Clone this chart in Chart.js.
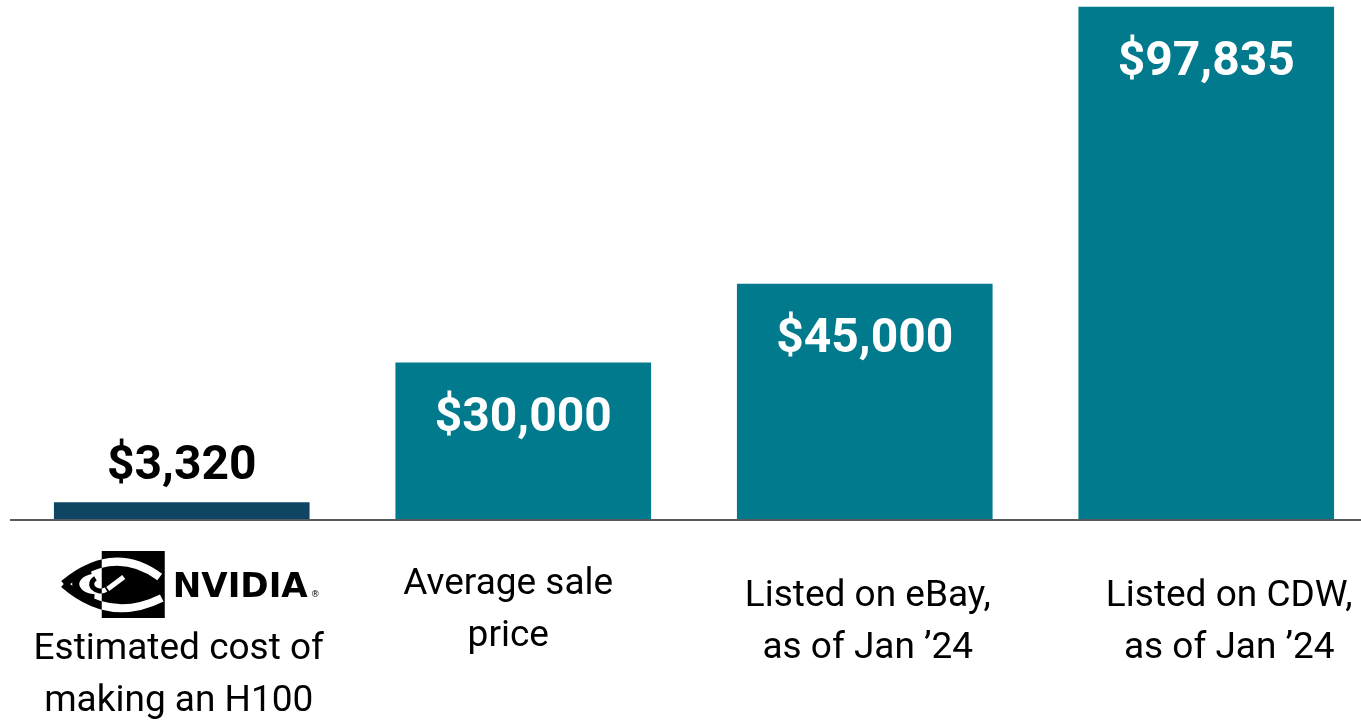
<!DOCTYPE html>
<html lang="en">
<head>
<meta charset="UTF-8">
<title>H100 price</title>
<style>
    body { margin: 0; background: #fff; overflow: hidden; }
    .wrap { position: relative; width: 1377px; height: 722px; }
</style>
</head>
<body>
<div class="wrap"><canvas id="grafico"></canvas></div>
<script src="https://cdn.jsdelivr.net/npm/chart.js"></script>
<script>
    // dados
    const categorias = [
        ['Estimated cost of', 'making an H100'],
        ['Average sale', 'price'],
        ['Listed on eBay,', 'as of Jan \u201924'],
        ['Listed on CDW,', 'as of Jan \u201924']
    ];
    const precos = [3320, 30000, 45000, 97835];
    const cores = ['#0e4562', '#007a8c', '#007a8c', '#007a8c'];

    // posicao dos rotulos de baixo: deslocamento x, linha de base y
    const posRotulos = [[-3, 659], [-15, 594], [3, 606], [23, 606]];

    function desenharLogo(ctx, cx) {
        // caixa preta
        const bx = cx - 80, by = 551, bw = 63, bh = 67;
        function olho(cor) {
            ctx.strokeStyle = cor;
            ctx.lineCap = 'butt';
            // contorno externo
            ctx.lineWidth = 8;
            ctx.beginPath();
            ctx.moveTo(cx - 118, 584);
            ctx.quadraticCurveTo(cx - 68, 543, cx - 22, 577);
            ctx.stroke();
            ctx.beginPath();
            ctx.moveTo(cx - 118, 584);
            ctx.quadraticCurveTo(cx - 72, 624, cx - 20, 598);
            ctx.stroke();
            // anel do meio
            ctx.lineWidth = 7;
            ctx.beginPath();
            ctx.ellipse(cx - 84, 584, 22, 14, 0, -0.6 * Math.PI, 0.55 * Math.PI, true);
            ctx.stroke();
            // gancho interno
            ctx.lineWidth = 5;
            ctx.beginPath();
            ctx.ellipse(cx - 81, 584, 9, 7, 0, -0.7 * Math.PI, 0.3 * Math.PI, true);
            ctx.stroke();
            ctx.beginPath();
            ctx.moveTo(cx - 74, 589);
            ctx.lineTo(cx - 58, 577);
            ctx.stroke();
        }
        ctx.fillStyle = '#000';
        ctx.fillRect(bx, by, bw, bh);
        olho('#000');
        ctx.save();
        ctx.beginPath();
        ctx.rect(bx, by, bw, bh);
        ctx.clip();
        olho('#fff');
        ctx.restore();

        // palavra NVIDIA
        ctx.save();
        ctx.font = 'bold 33px "DejaVu Sans"';
        const w = ctx.measureText('NVIDIA').width;
        ctx.translate(cx - 9, 597);
        ctx.scale(135 / w, 1);
        ctx.fillStyle = '#000';
        ctx.textAlign = 'left';
        ctx.textBaseline = 'alphabetic';
        ctx.fillText('NVIDIA', 0, 0);
        ctx.restore();
        ctx.font = '9px "DejaVu Sans"';
        ctx.fillStyle = '#000';
        ctx.textAlign = 'left';
        ctx.fillText('\u00ae', cx + 129, 597);
    }

    const rotulosPlugin = {
        id: 'rotulos',
        afterDatasetsDraw(chart) {
            const ctx = chart.ctx;
            const meta = chart.getDatasetMeta(0);
            const yZero = chart.scales.y.getPixelForValue(0);
            ctx.save();

            // linha do eixo
            ctx.strokeStyle = '#555b5e';
            ctx.lineWidth = 2;
            ctx.beginPath();
            ctx.moveTo(chart.chartArea.left - 1, yZero);
            ctx.lineTo(chart.chartArea.right, yZero);
            ctx.stroke();

            // valores
            ctx.textAlign = 'center';
            ctx.textBaseline = 'middle';
            ctx.font = 'bold 48px Roboto';
            meta.data.forEach(function (barra, i) {
                const texto = '$' + precos[i].toLocaleString('en-US');
                if (i === 0) {
                    ctx.fillStyle = '#000';
                    ctx.fillText(texto, barra.x, barra.y - 36);
                } else {
                    ctx.fillStyle = '#fff';
                    ctx.fillText(texto, barra.x, barra.y + 56);
                }
            });

            // categorias
            ctx.font = '37px Roboto';
            ctx.fillStyle = '#000';
            ctx.textBaseline = 'alphabetic';
            meta.data.forEach(function (barra, i) {
                const p = posRotulos[i];
                categorias[i].forEach(function (linha, j) {
                    ctx.fillText(linha, barra.x + p[0], p[1] + j * 52);
                });
            });

            desenharLogo(ctx, meta.data[0].x);
            ctx.restore();
        }
    };

    const ctx = document.getElementById('grafico').getContext('2d');
    new Chart(ctx, {
        type: 'bar',
        data: {
            labels: categorias,
            datasets: [{
                data: precos,
                backgroundColor: cores,
                barThickness: 255
            }]
        },
        options: {
            responsive: true,
            maintainAspectRatio: false,
            animation: false,
            layout: { padding: { left: 11, right: 0, top: 0, bottom: 202 } },
            scales: {
                x: { display: false },
                y: { display: false, min: 0, max: 99200 }
            },
            plugins: {
                legend: { display: false },
                tooltip: { enabled: false }
            }
        },
        plugins: [rotulosPlugin]
    });
</script>
</body>
</html>
